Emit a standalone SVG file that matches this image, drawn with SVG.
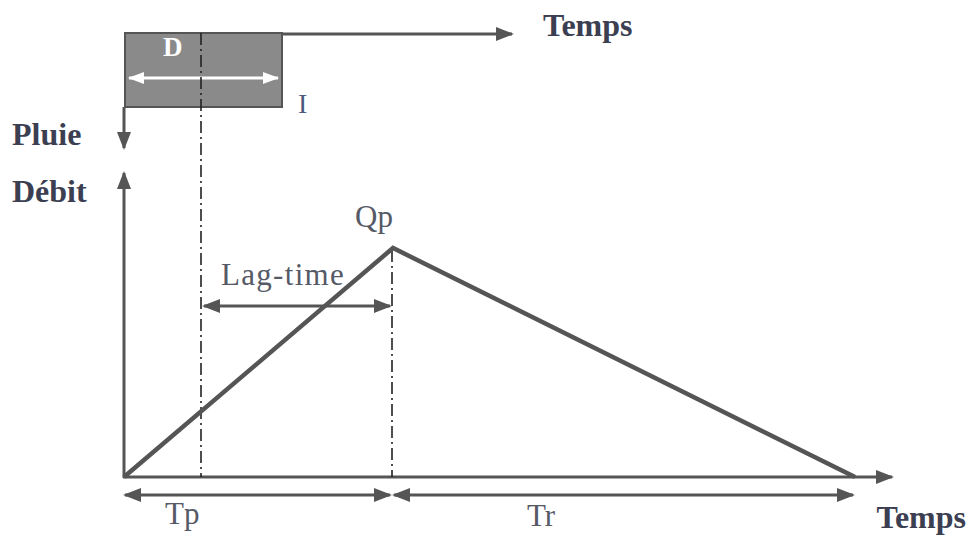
<svg xmlns="http://www.w3.org/2000/svg" width="971" height="536" viewBox="0 0 971 536">
<style>
.ax{stroke:#555;stroke-width:3;fill:none}
.hy{stroke:#555;stroke-width:4.5;fill:none;stroke-linejoin:miter}
.dd{stroke:#222;stroke-width:1.6;stroke-dasharray:12 4 2 4;fill:none}
.lbl{font-family:"Liberation Serif",serif;font-weight:bold;font-size:32px;fill:#3c3f52}
.txt{font-family:"Liberation Serif",serif;font-size:31px;fill:#555a66}
</style>
<defs>
<marker id="ah" markerUnits="userSpaceOnUse" markerWidth="18" markerHeight="16" viewBox="0 0 18 16" refX="16" refY="8" orient="auto-start-reverse">
<path d="M0,1 L18,8 L0,15 Z" fill="#555"/>
</marker>
<marker id="aw" markerUnits="userSpaceOnUse" markerWidth="16" markerHeight="14" viewBox="0 0 16 14" refX="15" refY="7" orient="auto-start-reverse">
<path d="M0,1 L16,7 L0,13 Z" fill="#fff"/>
</marker>
</defs>
<g id="rain">
<rect x="125" y="33" width="157" height="74" fill="#8a8a8a" stroke="#555" stroke-width="2"/>
<text x="163" y="56" font-family="Liberation Serif,serif" font-weight="bold" font-size="27" fill="#fff">D</text>
<line x1="129" y1="78" x2="278" y2="78" stroke="#fff" stroke-width="3" marker-start="url(#aw)" marker-end="url(#aw)"/>
<text x="298" y="113" font-family="Liberation Serif,serif" font-size="28" fill="#4a5a80">I</text>
</g>
<g id="labels">
<text class="lbl" x="543" y="36">Temps</text>
<text class="lbl" x="12" y="145">Pluie</text>
<text class="lbl" x="12" y="202">Débit</text>
<text class="lbl" x="966" y="528" text-anchor="end" font-size="30">Temps</text>
<text class="txt" x="355" y="227">Qp</text>
<text class="txt" x="221" y="285" font-size="32" letter-spacing="1.3">Lag-time</text>
<text class="txt" x="165" y="524">Tp</text>
<text class="txt" x="527" y="526">Tr</text>
</g>
<g id="connectors">
<line class="ax" x1="282" y1="34" x2="512" y2="34" marker-end="url(#ah)"/>
<line class="ax" x1="124" y1="107" x2="124" y2="148" marker-end="url(#ah)"/>
<line class="ax" x1="124" y1="478" x2="124" y2="173" marker-end="url(#ah)"/>
<line class="ax" x1="123" y1="477" x2="892" y2="477" marker-end="url(#ah)"/>
<line class="dd" x1="201" y1="33" x2="201" y2="477"/>
<line class="dd" x1="392" y1="250" x2="392" y2="477"/>
<line class="ax" x1="204" y1="306" x2="390" y2="306" marker-start="url(#ah)" marker-end="url(#ah)"/>
<line class="ax" x1="125" y1="495" x2="390" y2="495" marker-start="url(#ah)" marker-end="url(#ah)"/>
<line class="ax" x1="394" y1="495" x2="853" y2="495" marker-start="url(#ah)" marker-end="url(#ah)"/>
</g>
<g id="hydrograph">
<polyline class="hy" points="124,477 393,248 855,477"/>
</g>
</svg>
